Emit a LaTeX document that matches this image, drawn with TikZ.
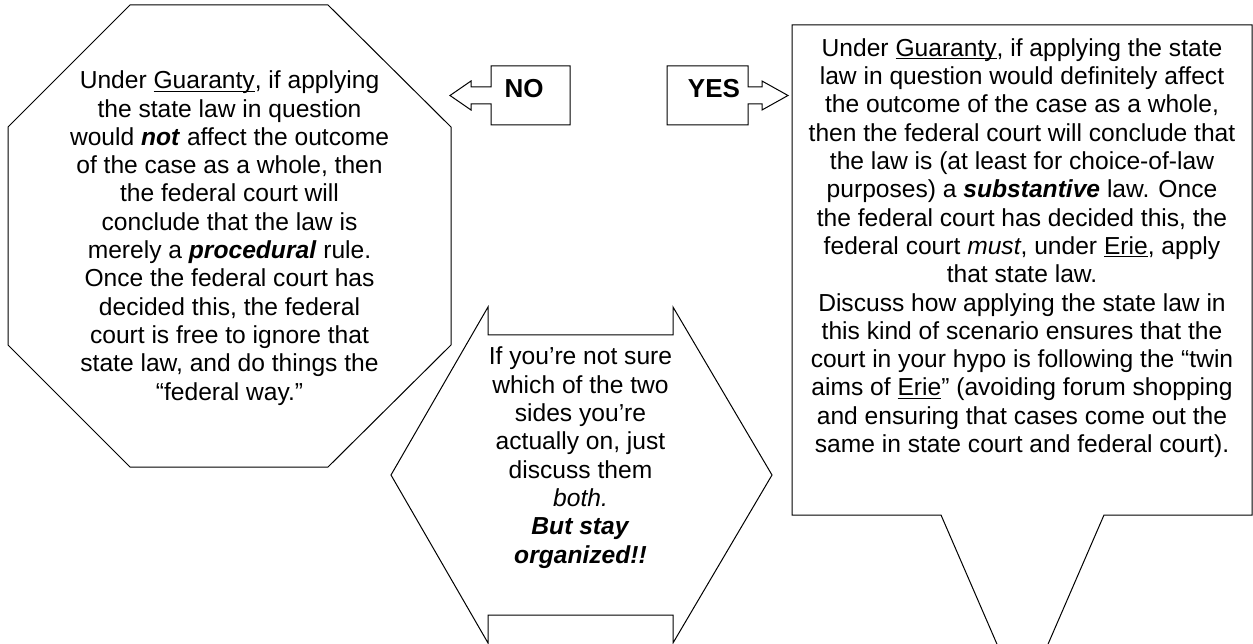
\documentclass[tikz,border=0pt]{standalone}
\usepackage{fontspec}
\setmainfont{Liberation Sans}
\usetikzlibrary{calc}
\newcommand\wordul[1]{\setbox0\hbox{#1}\rlap{\rule[-3pt]{\wd0}{1.2pt}}\box0}
\newcommand\bi[1]{\textbf{\textit{#1}}}

\begin{document}
\begin{tikzpicture}[
  x=1pt, y=-1pt,
  line join=miter,
  outline/.style={draw, line width=1pt},
  every node/.style={inner sep=0pt, font=\fontsize{24.6}{28.3}\selectfont},
  answer/.style={font=\fontsize{26}{28}\selectfont\bfseries}
]
  \clip (0,0) rectangle (1253,644);

  % Octagon (procedural side)
  \draw[outline] (130,5) -- (328,5) -- (451,127) -- (451,345)
    -- (328,467) -- (130,467) -- (8,345) -- (8,127) -- cycle;

  % NO arrow box, pointing left
  \draw[outline] (491,66) -- (570,66) -- (570,125) -- (491,125) -- (491,104)
    -- (471,104) -- (471,110) -- (450,95.5) -- (471,81) -- (471,87) -- (491,87) -- cycle;

  % YES arrow box, pointing right
  \draw[outline] (667,66) -- (748,66) -- (748,87) -- (762,87) -- (762,81)
    -- (788,95.5) -- (762,110) -- (762,104) -- (748,104) -- (748,125) -- (667,125) -- cycle;

  % Notched hexagon (middle)
  \draw[outline] (488,307) -- (488,335) -- (673,335) -- (673,307) -- (772,475)
    -- (673,643) -- (673,615) -- (488,615) -- (488,643) -- (391,475) -- cycle;

  % Speech callout (substantive side)
  \draw[outline] (792,25) -- (1252,25) -- (1252,515) -- (1104,515)
    -- (1022.5,703) -- (941,515) -- (792,515) -- cycle;

  % Texts
  \node[answer] (no)  at (524,89)  {NO};
  \node[answer] (yes) at (714,89)  {YES};

  \node[align=center] (proc) at (229.5,238) {%
    Under \wordul{Guaranty}, if applying\\
    the state law in question\\
    would \bi{not} affect the outcome\\
    of the case as a whole, then\\
    the federal court will\\
    conclude that the law is\\
    merely a \bi{procedural} rule.\\
    Once the federal court has\\
    decided this, the federal\\
    court is free to ignore that\\
    state law, and do things the\\
    “federal way.”};

  \node[align=center] (both) at (580.5,457.6) {%
    If you’re not sure\\
    which of the two\\
    sides you’re\\
    actually on, just\\
    discuss them\\
    \textit{both.}\\
    \bi{But stay}\\
    \bi{organized!!}};

  \node[align=center] (subst) at (1022,248.1) {%
    Under \wordul{Guaranty}, if applying the state\\
    law in question would definitely affect\\
    the outcome of the case as a whole,\\
    then the federal court will conclude that\\
    the law is (at least for choice-of-law\\
    purposes) a \bi{substantive} law. Once\\
    the federal court has decided this, the\\
    federal court \textit{must}, under \wordul{Erie}, apply\\
    that state law.\\
    Discuss how applying the state law in\\
    this kind of scenario ensures that the\\
    court in your hypo is following the “twin\\
    aims of \wordul{Erie}” (avoiding forum shopping\\
    and ensuring that cases come out the\\
    same in state court and federal court).};
\end{tikzpicture}
\end{document}
